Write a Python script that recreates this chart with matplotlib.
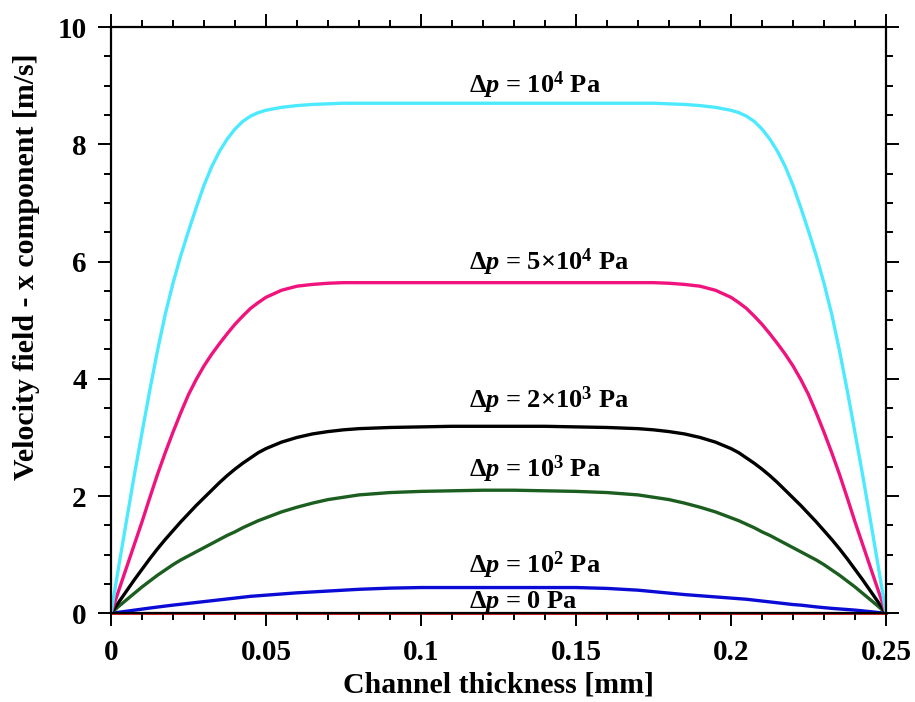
import numpy as np
import matplotlib
matplotlib.use('Agg')
import matplotlib.pyplot as plt
from matplotlib.ticker import MultipleLocator, FormatStrFormatter

plt.rcParams['font.family'] = 'Liberation Serif'
plt.rcParams['font.weight'] = 'bold'
plt.rcParams['mathtext.fontset'] = 'custom'
plt.rcParams['mathtext.rm'] = 'Liberation Serif:bold'
plt.rcParams['mathtext.bf'] = 'Liberation Serif:bold'
plt.rcParams['mathtext.it'] = 'Liberation Serif:bold:italic'

# channel coordinate [mm]
x_mm = [0, 0.0025, 0.005, 0.0075, 0.01, 0.0125, 0.015, 0.0175, 0.02, 0.0225,
        0.025, 0.0275, 0.03, 0.0325, 0.035, 0.0375, 0.04, 0.0425, 0.045, 0.0475,
        0.05, 0.055, 0.06, 0.065, 0.07, 0.075, 0.08,
        0.09, 0.1, 0.11, 0.12, 0.13, 0.14, 0.15, 0.16,
        0.17, 0.175, 0.18, 0.185, 0.19, 0.195, 0.2,
        0.2025, 0.205, 0.2075, 0.21, 0.2125, 0.215, 0.2175, 0.22, 0.2225, 0.225,
        0.2275, 0.23, 0.2325, 0.235, 0.2375, 0.24, 0.2425, 0.245, 0.2475, 0.25]

# velocity x component [m/s] for each pressure drop
u_1e4 = [0, 0.8, 1.58, 2.35, 3.08, 3.8, 4.48, 5.1, 5.63, 6.1,
         6.52, 6.92, 7.3, 7.62, 7.88, 8.09, 8.26, 8.39, 8.48, 8.54,
         8.58, 8.63, 8.66, 8.68, 8.69, 8.7, 8.7,
         8.7, 8.7, 8.7, 8.7, 8.7, 8.7, 8.7, 8.7,
         8.7, 8.7, 8.69, 8.68, 8.66, 8.63, 8.58,
         8.54, 8.48, 8.39, 8.26, 8.09, 7.88, 7.62, 7.3, 6.92, 6.52,
         6.1, 5.63, 5.1, 4.48, 3.8, 3.08, 2.35, 1.58, 0.8, 0]
u_5e4 = [0, 0.39, 0.78, 1.17, 1.56, 1.97, 2.37, 2.74, 3.09, 3.42,
         3.73, 3.99, 4.22, 4.42, 4.6, 4.77, 4.93, 5.07, 5.2, 5.3,
         5.39, 5.51, 5.58, 5.61, 5.63, 5.64, 5.64,
         5.64, 5.64, 5.64, 5.64, 5.64, 5.64, 5.64, 5.64,
         5.64, 5.64, 5.63, 5.61, 5.58, 5.51, 5.39,
         5.3, 5.2, 5.07, 4.93, 4.77, 4.6, 4.42, 4.22, 3.99, 3.73,
         3.42, 3.09, 2.74, 2.37, 1.97, 1.56, 1.17, 0.78, 0.39, 0]
u_2e3 = [0, 0.19, 0.38, 0.57, 0.75, 0.93, 1.1, 1.26, 1.41, 1.56,
         1.7, 1.84, 1.97, 2.1, 2.23, 2.35, 2.46, 2.56, 2.65, 2.74,
         2.81, 2.92, 3.0, 3.06, 3.1, 3.13, 3.15,
         3.17, 3.18, 3.19, 3.19, 3.19, 3.19, 3.18, 3.17,
         3.15, 3.13, 3.1, 3.06, 3.0, 2.92, 2.81,
         2.74, 2.65, 2.56, 2.46, 2.35, 2.23, 2.1, 1.97, 1.84, 1.7,
         1.56, 1.41, 1.26, 1.1, 0.93, 0.75, 0.57, 0.38, 0.19, 0]
u_1e3 = [0, 0.12, 0.23, 0.34, 0.45, 0.55, 0.65, 0.74, 0.83, 0.91,
         0.98, 1.05, 1.12, 1.19, 1.26, 1.33, 1.39, 1.46, 1.52, 1.58,
         1.63, 1.73, 1.81, 1.88, 1.94, 1.98, 2.02,
         2.06, 2.08, 2.09, 2.1, 2.1, 2.09, 2.08, 2.06,
         2.02, 1.98, 1.94, 1.88, 1.81, 1.73, 1.63,
         1.58, 1.52, 1.46, 1.39, 1.33, 1.26, 1.19, 1.12, 1.05, 0.98,
         0.91, 0.83, 0.74, 0.65, 0.55, 0.45, 0.34, 0.23, 0.12, 0]
u_1e2 = [0, 0.018, 0.036, 0.054, 0.072, 0.09, 0.107, 0.124, 0.14, 0.155,
         0.17, 0.185, 0.2, 0.215, 0.23, 0.245, 0.26, 0.275, 0.29, 0.3,
         0.31, 0.33, 0.35, 0.365, 0.38, 0.395, 0.41,
         0.43, 0.44, 0.44, 0.44, 0.44, 0.44, 0.44, 0.425,
         0.395, 0.37, 0.345, 0.32, 0.3, 0.28, 0.26,
         0.25, 0.24, 0.225, 0.21, 0.195, 0.18, 0.165, 0.15, 0.14, 0.125,
         0.11, 0.097, 0.085, 0.075, 0.065, 0.055, 0.042, 0.028, 0.014, 0]
u_0 = [0] * len(x_mm)

label_x = 0.1155
labels = [r'$\Delta\mathit{p}$ = 10$^{4}$ Pa',
          r'$\Delta\mathit{p}$ = 5×10$^{4}$ Pa',
          r'$\Delta\mathit{p}$ = 2×10$^{3}$ Pa',
          r'$\Delta\mathit{p}$ = 10$^{3}$ Pa',
          r'$\Delta\mathit{p}$ = 10$^{2}$ Pa',
          r'$\Delta\mathit{p}$ = 0 Pa']
label_y = [8.87, 5.86, 3.50, 2.33, 0.69, 0.09]

fig = plt.figure(figsize=(9.15, 7.02), dpi=100)
ax = fig.add_axes([0.1213, 0.1263, 0.847, 0.8352])

ax.plot(x_mm, u_0, color='#d8262c', lw=2.2, zorder=1, clip_on=False)
ax.plot(x_mm, u_1e2, color='#0b0bd6', lw=2.4)
ax.plot(x_mm, u_1e3, color='#1c5e1f', lw=2.4)
ax.plot(x_mm, u_2e3, color='black', lw=2.4)
ax.plot(x_mm, u_5e4, color='#f0137e', lw=2.4)
ax.plot(x_mm, u_1e4, color='#4deaff', lw=2.4)

for txt, yy in zip(labels, label_y):
    ax.text(label_x, yy, txt, fontsize=19, fontweight='bold',
            ha='left', va='baseline')

ax.set_xlim(0, 0.25)
ax.set_ylim(0, 10)
ax.xaxis.set_major_locator(MultipleLocator(0.05))
ax.xaxis.set_minor_locator(MultipleLocator(0.01))
ax.yaxis.set_major_locator(MultipleLocator(2))
ax.yaxis.set_minor_locator(MultipleLocator(0.5))
ax.xaxis.set_major_formatter(FormatStrFormatter('%g'))
ax.yaxis.set_major_formatter(FormatStrFormatter('%g'))

ax.tick_params(which='both', direction='out', top=True, right=True,
               width=1.4, labelsize=21)
ax.tick_params(which='major', length=9.5)
ax.tick_params(which='minor', length=5)
ax.tick_params(axis='y', pad=8)
ax.tick_params(axis='x', pad=9)
for sp in ax.spines.values():
    sp.set_linewidth(1.6)

ax.set_xlabel('Channel thickness [mm]', fontsize=21.5, fontweight='bold',
              labelpad=4)
ax.set_ylabel('Velocity field - x component [m/s]', fontsize=21.5,
              fontweight='bold', va='center')
ax.yaxis.set_label_coords(-0.109, 0.5915)

fig.savefig('out.png', dpi=100)
